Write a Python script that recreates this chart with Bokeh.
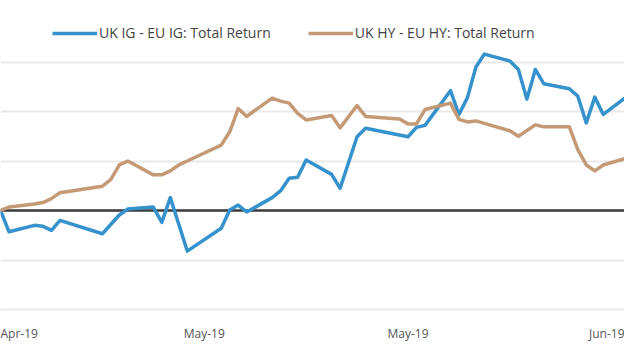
from bokeh.plotting import figure
from bokeh.models import Span, Legend, LegendItem, FixedTicker, ColumnDataSource
from bokeh.embed import file_html
from bokeh.resources import INLINE

# ---- data ----
ig_x = [0, 1, 4, 5, 6, 7, 12, 14, 15, 18, 19, 20, 22, 26, 27, 28, 29, 32, 33, 34,
        35, 36, 39, 40, 42, 43, 48, 49, 50, 53, 54, 55, 56, 57, 60, 61, 62, 63, 64,
        67, 68, 69, 70, 71, 74]
ig_y = [0.00, -0.43, -0.30, -0.32, -0.40, -0.20, -0.47, -0.09, 0.03, 0.07, -0.24,
        0.26, -0.82, -0.36, 0.01, 0.11, -0.03, 0.26, 0.40, 0.65, 0.67, 1.02, 0.73,
        0.45, 1.49, 1.66, 1.49, 1.68, 1.72, 2.42, 1.94, 2.28, 2.90, 3.16, 3.02, 2.85,
        2.25, 2.85, 2.56, 2.46, 2.31, 1.77, 2.29, 1.94, 2.33]

hy_x = [0, 1, 4, 5, 6, 7, 12, 13, 14, 15, 18, 19, 20, 21, 22, 26, 27, 28, 29, 32,
        33, 34, 35, 36, 39, 40, 42, 43, 47, 48, 49, 50, 53, 54, 55, 56, 60, 61, 63,
        64, 67, 68, 69, 70, 71, 74]
hy_y = [0.00, 0.07, 0.13, 0.16, 0.24, 0.36, 0.49, 0.63, 0.92, 1.00, 0.72, 0.72,
        0.80, 0.92, 1.00, 1.32, 1.59, 2.06, 1.90, 2.27, 2.21, 2.17, 1.96, 1.83, 1.92,
        1.67, 2.12, 1.90, 1.85, 1.75, 1.75, 2.04, 2.17, 1.84, 1.79, 1.81, 1.61, 1.50,
        1.73, 1.69, 1.69, 1.23, 0.92, 0.80, 0.92, 1.07]

tick_pos = [0, 24, 48, 72]
tick_labels = ["Apr-19", "May-19", "May-19", "Jun-19"]

series_names = ["UK IG - EU IG: Total Return", "UK HY - EU HY: Total Return"]
colors = ["#3592cc", "#c49a76"]

FONT = "Open Sans"

p = figure(width=624, height=344, output_backend="svg", toolbar_location=None,
           x_range=(0, 73.5), y_range=(-2, 4), y_axis_location=None,
           min_border_top=12, min_border_left=0, min_border_right=0,
           min_border_bottom=34)
p.outline_line_color = None
p.background_fill_color = "white"
p.border_fill_color = "white"

p.xgrid.grid_line_color = None
p.ygrid.ticker = FixedTicker(ticks=[-2, -1, 0, 1, 2, 3, 4])
p.ygrid.grid_line_color = "#e9e9e9"
p.ygrid.grid_line_width = 2

ax = p.xaxis[0]
ax.ticker = FixedTicker(ticks=tick_pos)
ax.major_label_overrides = {t: l for t, l in zip(tick_pos, tick_labels)}
ax.major_tick_line_color = None
ax.minor_tick_line_color = None
ax.axis_line_color = "#ececec"
ax.axis_line_width = 2
ax.major_label_text_font = FONT
ax.major_label_text_font_size = "12px"
ax.major_label_text_color = "#555555"
ax.major_label_standoff = 9

zero = Span(location=0, dimension="width", line_color="#3c3c3c", line_width=2.5,
            level="underlay")
p.add_layout(zero)

src_ig = ColumnDataSource(dict(x=ig_x, y=ig_y))
src_hy = ColumnDataSource(dict(x=hy_x, y=hy_y))
r1 = p.line("x", "y", source=src_ig, line_color=colors[0], line_width=3.5,
            line_join="round")
r2 = p.line("x", "y", source=src_hy, line_color=colors[1], line_width=3.5,
            line_join="round")

legend = Legend(items=[LegendItem(label=series_names[0], renderers=[r1]),
                       LegendItem(label=series_names[1], renderers=[r2])],
                orientation="horizontal", location=(52, 267),
                glyph_width=45, glyph_height=16, label_height=16,
                label_standoff=2, spacing=37, padding=0, margin=0,
                border_line_color=None, background_fill_alpha=0,
                label_text_font=FONT, label_text_font_size="14px",
                label_text_color="#444444")
p.add_layout(legend, "center")

open("out.html", "w").write(file_html(p, INLINE))
